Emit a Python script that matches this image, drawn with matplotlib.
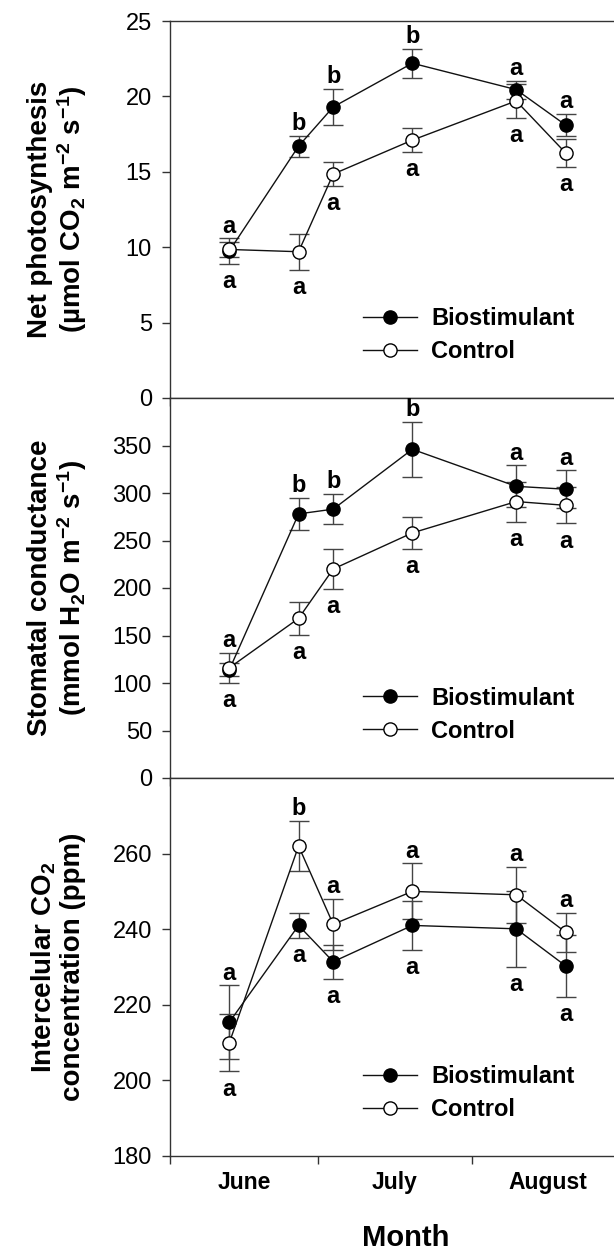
import matplotlib
# no display in the sandbox
matplotlib.use('Agg')
import matplotlib.pyplot as plt

plt.rcParams['font.family'] = ['Liberation Sans', 'DejaVu Sans']
plt.rcParams['mathtext.default'] = 'regular'

# sampling dates as days after 1 June
sample_day = [12, 26, 33, 49, 70, 80]
month_edges = [0, 30, 61, 92]
month_mid = [15, 45.5, 76.5]
month_names = ['June', 'July', 'August']

series_names = ['Biostimulant', 'Control']

# net photosynthesis
pn_bio = [9.75, 16.7, 19.3, 22.2, 20.45, 18.1]
pn_bio_err = [0.85, 0.7, 1.2, 0.95, 0.6, 0.75]
pn_ctl = [9.85, 9.7, 14.85, 17.1, 19.7, 16.25]
pn_ctl_err = [0.5, 1.2, 0.8, 0.8, 1.1, 0.9]
pn_top = ['a', 'b', 'b', 'b', 'a', 'a']
pn_bottom = ['a', 'a', 'a', 'a', 'a', 'a']

# stomatal conductance
gs_bio = [114, 278, 283, 346, 307, 304]
gs_bio_err = [7, 17, 16, 29, 22, 20]
gs_ctl = [116, 168, 220, 258, 291, 287]
gs_ctl_err = [16, 17, 21, 17, 21, 19]
gs_top = ['a', 'b', 'b', 'b', 'a', 'a']
gs_bottom = ['a', 'a', 'a', 'a', 'a', 'a']

# intercellular CO2
ci_bio = [215.4, 241.0, 231.4, 241.0, 240.1, 230.3]
ci_bio_err = [9.8, 3.2, 4.5, 6.5, 10.0, 8.2]
ci_ctl = [210.0, 262.0, 241.3, 250.0, 249.1, 239.2]
ci_ctl_err = [7.6, 6.7, 6.8, 7.4, 7.4, 5.2]
ci_top = ['a', 'b', 'a', 'a', 'a', 'a']
ci_bottom = ['a', 'a', 'a', 'a', 'a', 'a']

W, H = 614, 1250
fig = plt.figure(figsize=(W / 100, H / 100), dpi=100)


def px_axes(top, bottom, left=170, right=625):
    return [left / W, 1 - bottom / H, (right - left) / W, (bottom - top) / H]


def draw_panel(ax, bio, bio_err, ctl, ctl_err, top_letters, bottom_letters,
               ylim, yticks, ylabel):
    ax.errorbar(sample_day, bio, yerr=bio_err, fmt='none', ecolor='#444444',
                elinewidth=1, capsize=7, capthick=1, zorder=2)
    ax.errorbar(sample_day, ctl, yerr=ctl_err, fmt='none', ecolor='#444444',
                elinewidth=1, capsize=7, capthick=1, zorder=2)
    h1, = ax.plot(sample_day, bio, '-o', color='#111111', lw=1, ms=9.5,
                  mfc='black', mec='black', mew=1, zorder=3, label=series_names[0])
    h2, = ax.plot(sample_day, ctl, '-o', color='#111111', lw=1, ms=9.5,
                  mfc='white', mec='black', mew=1, zorder=4, label=series_names[1])

    # significance letters above the higher and below the lower error bar
    for i, x in enumerate(sample_day):
        hi = max(bio[i] + bio_err[i], ctl[i] + ctl_err[i])
        lo = min(bio[i] - bio_err[i], ctl[i] - ctl_err[i])
        ax.annotate(top_letters[i], (x, hi), xytext=(0, 4), textcoords='offset points',
                    ha='center', va='baseline', fontsize=17, fontweight='bold')
        ax.annotate(bottom_letters[i], (x, lo), xytext=(0, -4.5), textcoords='offset points',
                    ha='center', va='top', fontsize=17, fontweight='bold')

    ax.set_xlim(month_edges[0], month_edges[-1])
    ax.set_ylim(*ylim)
    ax.set_yticks(yticks)
    ax.set_xticks(month_edges)
    ax.set_xticklabels([])
    ax.set_xticks(month_mid, minor=True)
    ax.tick_params(axis='x', which='minor', length=0)
    ax.tick_params(axis='both', which='major', direction='out', length=6,
                   width=1, color='#333333', labelsize=17, pad=7)
    for side in ['left', 'top', 'bottom', 'right']:
        ax.spines[side].set_color('#333333')
        ax.spines[side].set_linewidth(1)

    ax.set_ylabel(ylabel, fontsize=20, fontweight='bold', va='center',
                  linespacing=1.1)
    ax.yaxis.set_label_coords(-0.246, 0.5)

    ax.legend(handles=[h1, h2], loc='lower left', bbox_to_anchor=(0.424, 0.093),
              frameon=False, prop={'weight': 'bold', 'size': 17},
              handlelength=2.3, handletextpad=0.6, labelspacing=0.42,
              borderpad=0, borderaxespad=0, numpoints=1)


ax1 = fig.add_axes(px_axes(21, 398))
ax2 = fig.add_axes(px_axes(398, 778))
ax3 = fig.add_axes(px_axes(778, 1156))

draw_panel(ax1, pn_bio, pn_bio_err, pn_ctl, pn_ctl_err, pn_top, pn_bottom,
           (0, 25), [0, 5, 10, 15, 20, 25],
           'Net photosynthesis\n(µmol CO$_2$ m$^{-2}$ s$^{-1}$)')
draw_panel(ax2, gs_bio, gs_bio_err, gs_ctl, gs_ctl_err, gs_top, gs_bottom,
           (0, 400), [0, 50, 100, 150, 200, 250, 300, 350],
           'Stomatal conductance\n(mmol H$_2$O m$^{-2}$ s$^{-1}$)')
draw_panel(ax3, ci_bio, ci_bio_err, ci_ctl, ci_ctl_err, ci_top, ci_bottom,
           (180, 280), [180, 200, 220, 240, 260],
           'Intercelular CO$_2$\nconcentration (ppm)')

# month names only on the bottom panel, centred in each month
ax3.set_xticklabels(month_names, minor=True, fontsize=16.5, fontweight='bold')
ax3.tick_params(axis='x', which='minor', pad=11)
ax3.set_xlabel('Month', fontsize=21, fontweight='bold', va='center')
ax3.xaxis.set_label_coords(0.519, -0.217)

fig.savefig('out.png', dpi=100)
